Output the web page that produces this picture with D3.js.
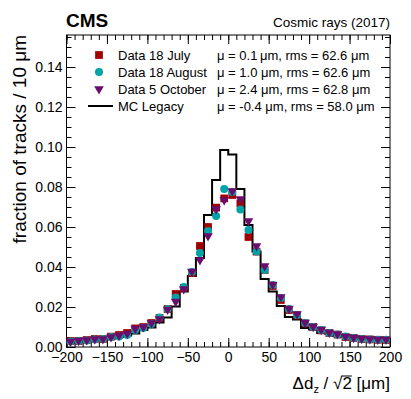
<!DOCTYPE html>
<html>
<head>
<meta charset="utf-8">
<script src="https://cdn.jsdelivr.net/npm/d3@7"></script>
<style>
body { margin: 0; background: #fff; }
svg text { font-family: "Liberation Sans", Arial, Helvetica, sans-serif; fill: #000; }
</style>
</head>
<body>
<script>
var width = 411,
    height = 399;

// bin centres (10 um bins)
var binCenters = [-195, -185, -175, -165, -155, -145, -135, -125, -115, -105,
                  -95, -85, -75, -65, -55, -45, -35, -25, -15, -5,
                  5, 15, 25, 35, 45, 55, 65, 75, 85, 95,
                  105, 115, 125, 135, 145, 155, 165, 175, 185, 195];

var mcLegacy = [0.0020, 0.0025, 0.0030, 0.0033, 0.0037, 0.0042, 0.0050, 0.0058, 0.0068, 0.0085,
                0.0098, 0.0123, 0.0148, 0.0202, 0.0277, 0.0355, 0.0445, 0.0660, 0.0835, 0.0985,
                0.0962, 0.0790, 0.0610, 0.0477, 0.0340, 0.0277, 0.0205, 0.0150, 0.0138, 0.0095,
                0.0088, 0.0070, 0.0066, 0.0056, 0.0050, 0.0045, 0.0040, 0.0040, 0.0035, 0.0030];

var dataJuly = [0.0030, 0.0030, 0.0035, 0.0040, 0.0040, 0.0052, 0.0060, 0.0070, 0.0093, 0.0100,
                0.0120, 0.0145, 0.0190, 0.0265, 0.0295, 0.0370, 0.0505, 0.0600, 0.0697, 0.0743,
                0.0760, 0.0718, 0.0550, 0.0477, 0.0385, 0.0305, 0.0235, 0.0185, 0.0158, 0.0118,
                0.0100, 0.0083, 0.0070, 0.0062, 0.0050, 0.0045, 0.0040, 0.0038, 0.0036, 0.0035];

var dataAugust = [0.0028, 0.0030, 0.0033, 0.0038, 0.0040, 0.0050, 0.0052, 0.0060, 0.0085, 0.0095,
                  0.0115, 0.0148, 0.0190, 0.0248, 0.0300, 0.0375, 0.0470, 0.0580, 0.0655, 0.0790,
                  0.0775, 0.0688, 0.0585, 0.0477, 0.0385, 0.0310, 0.0245, 0.0190, 0.0160, 0.0120,
                  0.0100, 0.0085, 0.0070, 0.0062, 0.0052, 0.0045, 0.0040, 0.0037, 0.0036, 0.0036];

var dataOctober = [0.0028, 0.0032, 0.0035, 0.0040, 0.0040, 0.0050, 0.0058, 0.0068, 0.0092, 0.0100,
                   0.0120, 0.0140, 0.0188, 0.0227, 0.0290, 0.0378, 0.0435, 0.0555, 0.0690, 0.0735,
                   0.0780, 0.0740, 0.0630, 0.0505, 0.0405, 0.0312, 0.0250, 0.0192, 0.0165, 0.0122,
                   0.0102, 0.0087, 0.0073, 0.0065, 0.0053, 0.0047, 0.0042, 0.0040, 0.0038, 0.0038];

var legendNames = ["Data 18 July", "Data 18 August", "Data 5 October", "MC Legacy"];
var legendStats = ["\u03bc = 0.1\u2009\u03bcm, rms = 62.6 \u03bcm",
                   "\u03bc = 1.0 \u03bcm, rms = 62.6 \u03bcm",
                   "\u03bc = 2.4 \u03bcm, rms = 62.8 \u03bcm",
                   "\u03bc = -0.4 \u03bcm, rms = 58.0 \u03bcm"];

var xTicks = [-200, -150, -100, -50, 0, 50, 100, 150, 200];
var yTicks = [0.00, 0.02, 0.04, 0.06, 0.08, 0.10, 0.12, 0.14];

var binWidth = 10;
var frame = {left: 66.5, right: 390, top: 35, bottom: 347};

var svg = d3.select('body').append('svg')
    .attr('width', width)
    .attr('height', height);

var x = d3.scaleLinear().domain([-200, 200]).range([frame.left, frame.right]);
var y = d3.scaleLinear().domain([0, 0.156]).range([frame.bottom, frame.top]);

/* ROOT style axes: ticks pointing inward, mirrored on top/right */
function minorAxis(axis, scale, step, size) {
    var d = scale.domain();
    return axis(scale).tickValues(d3.range(d[0], d[1] + step / 2, step))
        .tickSize(size).tickFormat('');
}

svg.append('g').attr('transform', 'translate(0,' + frame.bottom + ')')
    .call(minorAxis(d3.axisBottom, x, 10, -5));
svg.append('g').attr('transform', 'translate(0,' + frame.top + ')')
    .call(minorAxis(d3.axisTop, x, 10, -5));
svg.append('g').attr('transform', 'translate(' + frame.left + ',0)')
    .call(minorAxis(d3.axisLeft, y, 0.005, -5));
svg.append('g').attr('transform', 'translate(' + frame.right + ',0)')
    .call(minorAxis(d3.axisRight, y, 0.005, -5));

var xAxis = svg.append('g').attr('transform', 'translate(0,' + frame.bottom + ')')
    .call(d3.axisBottom(x).tickValues(xTicks).tickSize(-9).tickPadding(5)
        .tickFormat(function(d) { return d < 0 ? '\u2212' + (-d) : d; }));
svg.append('g').attr('transform', 'translate(0,' + frame.top + ')')
    .call(d3.axisTop(x).tickValues(xTicks).tickSize(-9).tickFormat(''));
var yAxis = svg.append('g').attr('transform', 'translate(' + frame.left + ',0)')
    .call(d3.axisLeft(y).tickValues(yTicks).tickSize(-9).tickPadding(4).tickFormat(d3.format('.2f')));
svg.append('g').attr('transform', 'translate(' + frame.right + ',0)')
    .call(d3.axisRight(y).tickValues(yTicks).tickSize(-9).tickFormat(''));

svg.selectAll('.domain').remove();
svg.selectAll('.tick line').attr('stroke', '#000').attr('stroke-width', 1);
xAxis.selectAll('text').style('font-size', '14px');
yAxis.selectAll('text').style('font-size', '14px');

svg.append('rect')
    .attr('x', frame.left).attr('y', frame.top)
    .attr('width', frame.right - frame.left).attr('height', frame.bottom - frame.top)
    .attr('fill', 'none').attr('stroke', '#000').attr('stroke-width', 1);

/* MC histogram outline */
var mcSteps = [];
binCenters.forEach(function(c, i) {
    mcSteps.push([c - binWidth / 2, mcLegacy[i]]);
    mcSteps.push([c + binWidth / 2, mcLegacy[i]]);
});
var line = d3.line()
    .x(function(d) { return x(d[0]); })
    .y(function(d) { return y(d[1]); });
svg.append('path')
    .datum(mcSteps)
    .attr('d', line)
    .attr('fill', 'none')
    .attr('stroke', '#000')
    .attr('stroke-width', 2);

/* data markers */
var series = [
    {values: dataJuly, color: '#a00000', symbol: d3.symbolSquare, size: 60, rot: 0},
    {values: dataAugust, color: '#00a3a6', symbol: d3.symbolCircle, size: 50, rot: 0},
    {values: dataOctober, color: '#6a0c6e', symbol: d3.symbolTriangle, size: 40, rot: 180}
];

series.forEach(function(s) {
    svg.append('g').selectAll('path')
        .data(s.values)
        .enter().append('path')
        .attr('d', d3.symbol().type(s.symbol).size(s.size))
        .attr('transform', function(d, i) {
            return 'translate(' + x(binCenters[i]) + ',' + y(d) + ') rotate(' + s.rot + ')';
        })
        .attr('fill', s.color);
});

/* legend */
var legY = [55, 72, 89, 106];
var leg = svg.append('g');
series.forEach(function(s, i) {
    leg.append('path')
        .attr('d', d3.symbol().type(s.symbol).size(s.size))
        .attr('transform', 'translate(99,' + legY[i] + ') rotate(' + s.rot + ')')
        .attr('fill', s.color);
});
leg.append('line')
    .attr('x1', 88).attr('x2', 113)
    .attr('y1', legY[3]).attr('y2', legY[3])
    .attr('stroke', '#000').attr('stroke-width', 2);
leg.selectAll('.name')
    .data(legendNames)
    .enter().append('text')
    .attr('x', 118)
    .attr('y', function(d, i) { return legY[i]; })
    .attr('dy', '0.35em')
    .style('font-size', '13px')
    .text(function(d) { return d; });
leg.selectAll('.stat')
    .data(legendStats)
    .enter().append('text')
    .attr('x', 217)
    .attr('y', function(d, i) { return legY[i]; })
    .attr('dy', '0.35em')
    .style('font-size', '13px')
    .text(function(d) { return d; });

/* titles */
svg.append('text')
    .attr('x', 66).attr('y', 27)
    .style('font-size', '19px').style('font-weight', 'bold')
    .text('CMS');
svg.append('text')
    .attr('x', 390).attr('y', 27)
    .attr('text-anchor', 'end')
    .style('font-size', '13.5px')
    .text('Cosmic rays (2017)');

svg.append('text')
    .attr('transform', 'translate(26,' + frame.top + ') rotate(-90)')
    .attr('text-anchor', 'end')
    .style('font-size', '19px')
    .text('fraction of tracks / 10 \u03bcm');

var xt = svg.append('text')
    .attr('x', 390).attr('y', 389)
    .attr('text-anchor', 'end')
    .style('font-size', '17px');
xt.append('tspan').text('\u0394d');
xt.append('tspan').attr('dy', 4).style('font-size', '11px').text('z');
xt.append('tspan').attr('dy', -4).text(' /  \u221a');
var two = xt.append('tspan').text('2');
xt.append('tspan').text(' [\u03bcm]');

// bar over the 2 of the square root
var bb = two.node().getExtentOfChar(0);
svg.append('line')
    .attr('x1', bb.x - 1).attr('x2', bb.x + bb.width)
    .attr('y1', bb.y + 2).attr('y2', bb.y + 2)
    .attr('stroke', '#000').attr('stroke-width', 1);
</script>
</body>
</html>
